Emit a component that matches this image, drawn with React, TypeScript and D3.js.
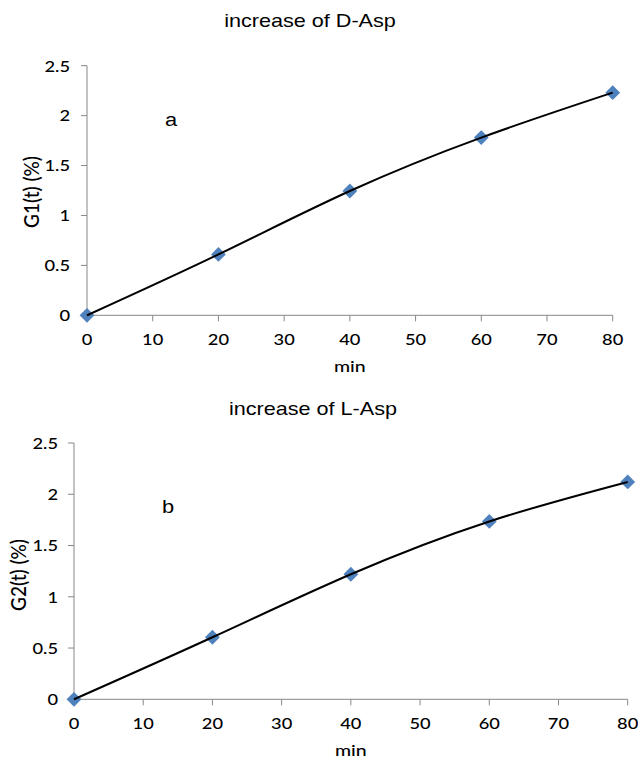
import React from "react";
import * as d3 from "d3";

const timeMin = [0, 20, 40, 60, 80];
const dAspIncrease = [0, 0.61, 1.245, 1.78, 2.23];
const lAspIncrease = [0, 0.605, 1.22, 1.735, 2.12];
const xTicks = [0, 10, 20, 30, 40, 50, 60, 70, 80];
const yTicks = [0, 0.5, 1, 1.5, 2, 2.5];
const titles = ["increase of D-Asp", "increase of L-Asp"];
const letters = ["a", "b"];
const yLabels = ["G1(t) (%)", "G2(t) (%)"];
const xLabel = "min";

const SX = 1.22;
const AXIS = "#878787";
const BLUE = "#4F81BD";
const TICK_FONT = "Lato, 'Open Sans', sans-serif";
const TITLE_FONT = "'Liberation Sans', Arial, sans-serif";

type Layout = {
  left: number; right: number; top: number; bottom: number;
  titleX: number; titleY: number;
  letterX: number; letterY: number;
  yLabelX: number; yLabelY: number;
  xLabelY: number; xTickY: number; yTickRight: number;
};

function SText({ x, y, size, font, anchor = "middle", rotate = 0, sx = SX, weight = 400, children }: any) {
  return (
    <g transform={`translate(${x},${y}) scale(${sx},1) rotate(${rotate})`}>
      <text
        x={0}
        y={0}
        fontSize={size}
        fontFamily={font}
        fontWeight={weight}
        textAnchor={anchor}
        dominantBaseline="central"
        fill="#000"
      >
        {children}
      </text>
    </g>
  );
}

function Panel({ values, idx, L }: { values: number[]; idx: number; L: Layout }) {
  const x = d3.scaleLinear().domain([0, 80]).range([L.left, L.right]);
  const y = d3.scaleLinear().domain([0, 2.5]).range([L.bottom, L.top]);
  const pts = timeMin.map((t, i) => [t, values[i]] as [number, number]);
  const line = d3
    .line<[number, number]>()
    .x((d) => x(d[0]))
    .y((d) => y(d[1]))
    .curve(d3.curveNatural);
  const diamond = d3.symbol().type(d3.symbolSquare).size(110)();
  return (
    <g>
      <SText x={L.titleX} y={L.titleY} size={18} font={TITLE_FONT} sx={1.2}>
        {titles[idx]}
      </SText>
      <line x1={L.left} x2={L.left} y1={y(2.5)} y2={y(0)} stroke={AXIS} strokeWidth={1} />
      {yTicks.map((t) => (
        <g key={"y" + t}>
          <line x1={L.left - 6} x2={L.left} y1={y(t)} y2={y(t)} stroke={AXIS} />
          <SText x={L.yTickRight} y={y(t)} size={15} font={TICK_FONT} anchor="end" weight={500}>
            {String(t)}
          </SText>
        </g>
      ))}
      <line x1={x(0)} x2={x(80)} y1={y(0)} y2={y(0)} stroke={AXIS} strokeWidth={1} />
      {xTicks.map((t) => (
        <g key={"x" + t}>
          <line x1={x(t)} x2={x(t)} y1={y(0)} y2={y(0) + 6} stroke={AXIS} />
          <SText x={x(t)} y={L.xTickY} size={15} font={TICK_FONT} weight={500}>
            {String(t)}
          </SText>
        </g>
      ))}
      <SText x={(L.left + L.right) / 2} y={L.xLabelY} size={16} font={TICK_FONT} weight={500}>
        {xLabel}
      </SText>
      <SText x={L.yLabelX} y={L.yLabelY} size={19} font={TICK_FONT} rotate={-90} sx={1.1} weight={500}>
        {yLabels[idx]}
      </SText>
      <SText x={L.letterX} y={L.letterY} size={19} font={TITLE_FONT} sx={1.15}>
        {letters[idx]}
      </SText>
      {pts.map((p, i) => (
        <path
          key={"m" + i}
          d={diamond as string}
          transform={`translate(${x(p[0])},${y(p[1])}) rotate(45)`}
          fill={BLUE}
        />
      ))}
      <path d={line(pts) as string} fill="none" stroke="#000" strokeWidth={2} />
    </g>
  );
}

const layoutTop: Layout = {
  left: 87, right: 612.7, top: 65.7, bottom: 315.3,
  titleX: 310, titleY: 20.5,
  letterX: 171, letterY: 119,
  yLabelX: 31, yLabelY: 192,
  xLabelY: 366, xTickY: 339, yTickRight: 70,
};
const layoutBottom: Layout = {
  left: 74, right: 627.7, top: 443, bottom: 699.3,
  titleX: 313, titleY: 409,
  letterX: 168, letterY: 506,
  yLabelX: 18, yLabelY: 575,
  xLabelY: 750, xTickY: 723, yTickRight: 58,
};

export default function App() {
  return (
    <svg
      width={638}
      height={760}
      style={{ position: "absolute", left: 0, top: 0, background: "#fff" }}
    >
      <rect width={638} height={760} fill="#fff" />
      <Panel values={dAspIncrease} idx={0} L={layoutTop} />
      <Panel values={lAspIncrease} idx={1} L={layoutBottom} />
    </svg>
  );
}
